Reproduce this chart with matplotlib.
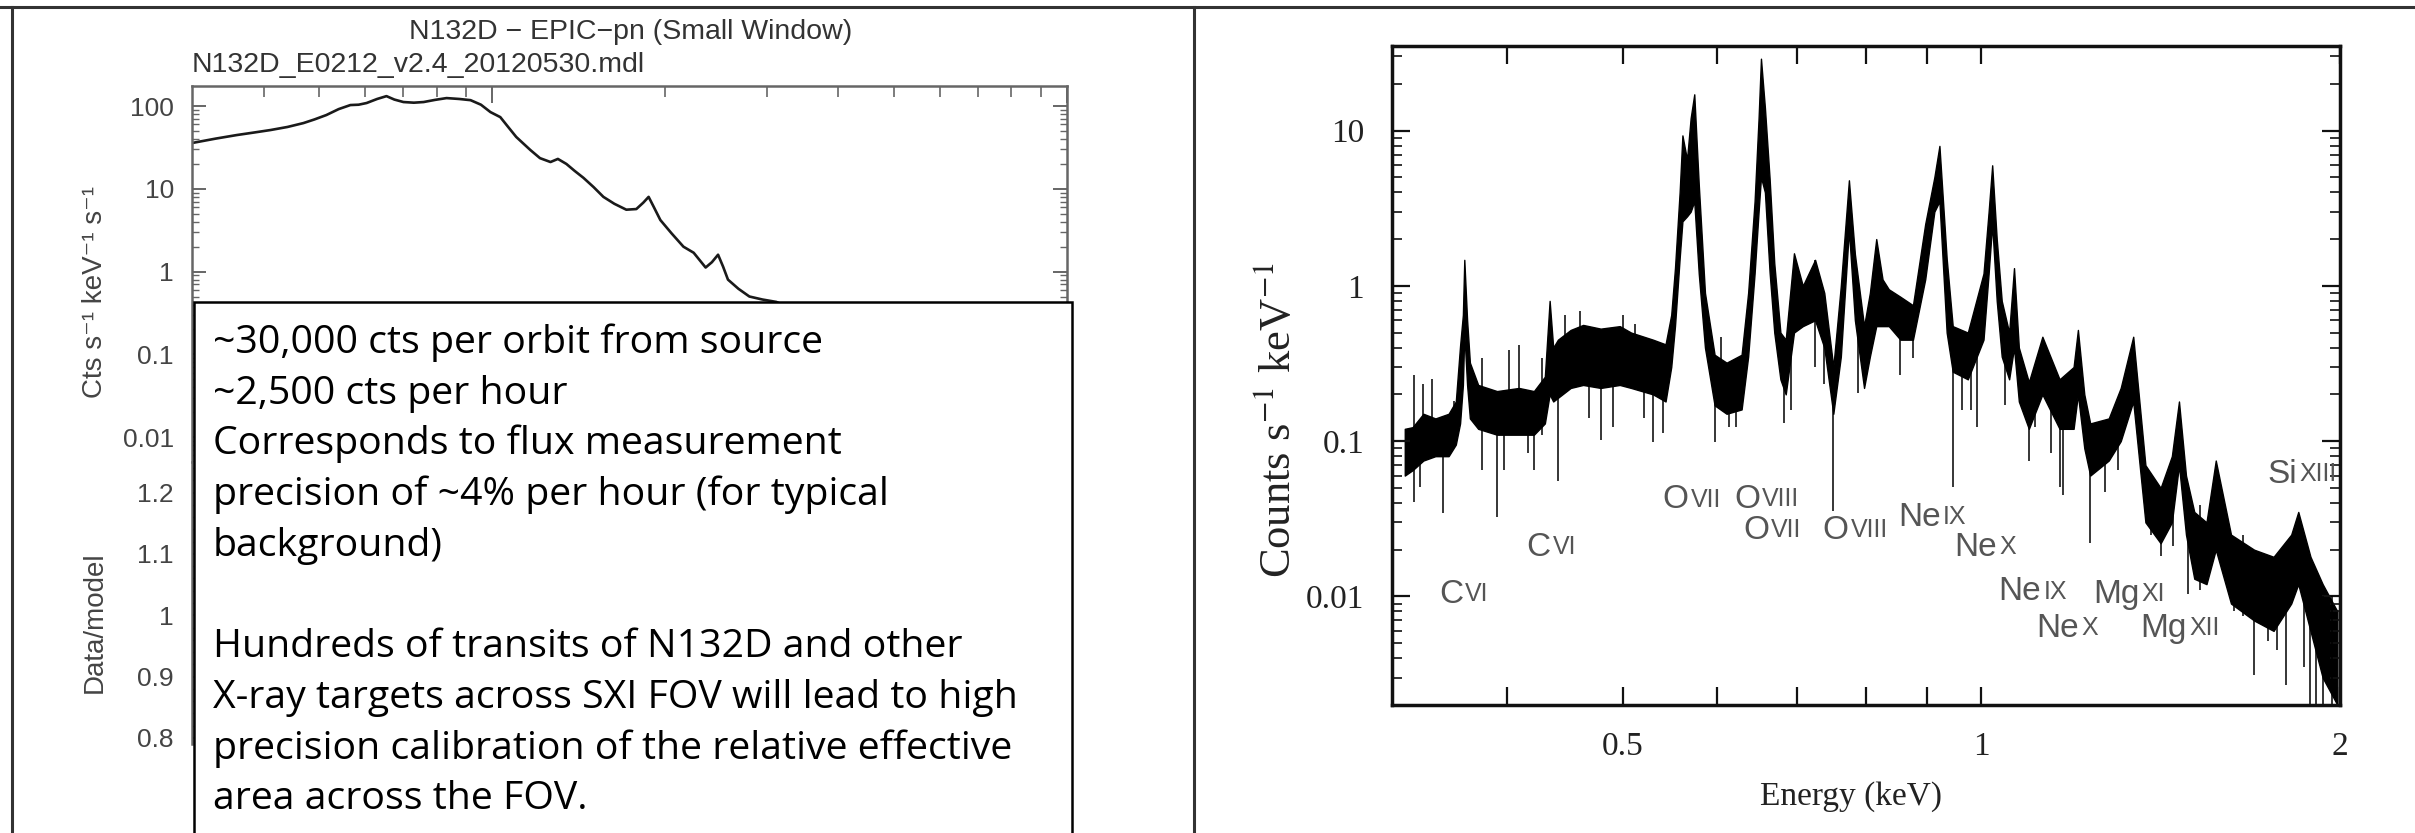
import matplotlib
matplotlib.use("Agg")
import matplotlib.pyplot as plt
from matplotlib.patches import Rectangle
from matplotlib.lines import Line2D
from matplotlib.ticker import FixedLocator, FixedFormatter, NullFormatter, NullLocator

# ---------------- data ----------------
# Left panel: XMM EPIC-pn model spectrum of N132D
model_E = [0.30, 0.33, 0.359, 0.385, 0.411, 0.44, 0.469, 0.49, 0.514, 0.54, 0.566, 0.585,
           0.604, 0.63, 0.654, 0.675, 0.700, 0.73, 0.759, 0.795, 0.832, 0.875, 0.916, 0.955,
           0.992, 1.032, 1.065, 1.10, 1.164, 1.21, 1.262, 1.30, 1.345, 1.39, 1.44, 1.50,
           1.56, 1.63, 1.71, 1.78, 1.83, 1.87, 1.91, 1.96, 2.05, 2.15, 2.24, 2.35, 2.41,
           2.47, 2.52, 2.57, 2.68, 2.80, 2.95, 3.12, 3.5, 4.0]
model_flux = [35.8, 40.5, 44.7, 48.0, 51.4, 56.0, 62.4, 69.0, 78, 92, 103, 104,
              109, 122, 132, 120, 112, 110, 112, 119, 125, 122, 118, 104,
              84.7, 73.6, 56.0, 42.4, 29.5, 23.5, 21.1, 23.0, 20.0, 16.5, 13.6, 10.5,
              8.0, 6.6, 5.6, 5.7, 6.8, 8.0, 6.0, 4.2, 2.9, 2.0, 1.69, 1.12, 1.30,
              1.60, 1.15, 0.80, 0.62, 0.50, 0.46, 0.43, 0.30, 0.20]
left_yticks = [0.01, 0.1, 1, 10, 100]
left_yticklabels = ["0.01", "0.1", "1", "10", "100"]
ratio_yticks = [0.8, 0.9, 1.0, 1.1, 1.2]
ratio_yticklabels = ["0.8", "0.9", "1", "1.1", "1.2"]

# Right panel: high-resolution spectrum, envelope of the noisy data band
spec_E = [0.328, 0.333, 0.340, 0.348, 0.357, 0.362, 0.365, 0.367, 0.368, 0.370, 0.372,
          0.378, 0.392, 0.409, 0.421, 0.430, 0.434, 0.437, 0.441, 0.452, 0.463, 0.479,
          0.497, 0.508, 0.530, 0.543, 0.549, 0.553, 0.558, 0.561, 0.566, 0.570, 0.574,
          0.579, 0.586, 0.597, 0.611, 0.629, 0.637, 0.645, 0.650, 0.653, 0.658, 0.664,
          0.670, 0.678, 0.685, 0.696, 0.708, 0.725, 0.738, 0.751, 0.762, 0.774, 0.783,
          0.797, 0.806, 0.816, 0.826, 0.836, 0.855, 0.876, 0.897, 0.913, 0.922, 0.935,
          0.946, 0.974, 1.004, 1.014, 1.021, 1.030, 1.040, 1.055, 1.065, 1.075, 1.096,
          1.125, 1.163, 1.195, 1.205, 1.22, 1.234, 1.279, 1.309, 1.341, 1.373, 1.414,
          1.445, 1.465, 1.485, 1.509, 1.545, 1.573, 1.620, 1.694, 1.759, 1.820, 1.845,
          1.889, 1.934, 1.99]
spec_hi = [0.12, 0.123, 0.15, 0.14, 0.15, 0.18, 0.41, 0.65, 1.47, 0.60, 0.32,
           0.23, 0.21, 0.22, 0.21, 0.26, 0.80, 0.40, 0.45, 0.52, 0.56, 0.53,
           0.55, 0.50, 0.45, 0.42, 0.65, 1.3, 4.0, 9.3, 6.5, 12.0, 17.1,
           4.5, 0.9, 0.36, 0.32, 0.36, 0.9, 3.5, 12.0, 29.0, 14.0, 4.9,
           1.4, 0.5, 0.45, 1.62, 1.0, 1.47, 0.9, 0.30, 1.0, 4.78, 1.6,
           0.55, 0.9, 2.0, 1.1, 0.95, 0.85, 0.75, 2.5, 5.0, 7.96, 1.5,
           0.55, 0.5, 1.2, 3.0, 5.97, 2.0, 0.8, 0.5, 1.3, 0.4, 0.24,
           0.47, 0.25, 0.3, 0.52, 0.2, 0.13, 0.14, 0.22, 0.47, 0.07, 0.05,
           0.08, 0.18, 0.06, 0.035, 0.03, 0.075, 0.025, 0.02, 0.018, 0.025, 0.035,
           0.018, 0.012, 0.008]
spec_lo = [0.06, 0.065, 0.075, 0.08, 0.08, 0.095, 0.13, 0.23, 0.50, 0.23, 0.14,
           0.12, 0.11, 0.11, 0.11, 0.13, 0.20, 0.18, 0.19, 0.22, 0.23, 0.22,
           0.23, 0.22, 0.20, 0.18, 0.30, 0.55, 1.5, 2.6, 2.8, 3.0, 3.5,
           1.2, 0.40, 0.17, 0.15, 0.16, 0.35, 1.2, 3.0, 5.0, 4.0, 1.22,
           0.5, 0.25, 0.2, 0.5, 0.55, 0.6, 0.4, 0.15, 0.35, 2.3, 0.6,
           0.22, 0.35, 0.55, 0.55, 0.55, 0.45, 0.45, 1.1, 3.0, 3.5, 0.5,
           0.28, 0.25, 0.45, 1.2, 2.5, 0.8, 0.35, 0.25, 0.4, 0.18, 0.12,
           0.2, 0.12, 0.12, 0.2, 0.09, 0.06, 0.075, 0.1, 0.18, 0.03, 0.022,
           0.03, 0.07, 0.025, 0.013, 0.012, 0.02, 0.009, 0.007, 0.006, 0.009, 0.012,
           0.006, 0.003, 0.002]
# single-bin spikes / dips (energy, low end, high end)
spike_E = [0.334, 0.338, 0.340, 0.346, 0.353, 0.361, 0.381, 0.392, 0.397, 0.401, 0.409,
           0.416, 0.421, 0.428, 0.441, 0.447, 0.460, 0.468, 0.479, 0.491, 0.500, 0.512,
           0.521, 0.530, 0.540, 0.597, 0.604, 0.614, 0.622, 0.683, 0.692, 0.725, 0.738,
           0.751, 0.788, 0.855, 0.876, 0.946, 0.963, 0.980, 0.992, 1.046, 1.096, 1.110,
           1.143, 1.163, 1.170, 1.191, 1.234, 1.271, 1.302, 1.389, 1.414, 1.448, 1.491,
           1.527, 1.629, 1.659, 1.694, 1.739, 1.770, 1.802, 1.867, 1.889, 1.911, 1.934,
           1.968]
spike_lo = [0.0405, 0.0506, 0.08, 0.08, 0.0346, 0.09, 0.065, 0.0324, 0.065, 0.11, 0.15,
            0.084, 0.065, 0.11, 0.0557, 0.3, 0.3, 0.14, 0.102, 0.123, 0.3, 0.22,
            0.14, 0.0994, 0.112, 0.0994, 0.2, 0.123, 0.123, 0.131, 0.159, 0.30, 0.233,
            0.0357, 0.205, 0.265, 0.341, 0.0506, 0.159, 0.159, 0.123, 0.17, 0.0742, 0.123,
            0.0842, 0.0506, 0.0447, 0.123, 0.0221, 0.047, 0.065, 0.025, 0.0183, 0.021, 0.0103,
            0.011, 0.008, 0.0075, 0.0031, 0.0052, 0.0045, 0.0027, 0.0035, 0.002, 0.002, 0.002,
            0.002]
spike_hi = [0.265, 0.08, 0.233, 0.25, 0.10, 0.181, 0.341, 0.15, 0.15, 0.387, 0.413,
            0.2, 0.15, 0.341, 0.25, 0.645, 0.687, 0.3, 0.3, 0.3, 0.645, 0.568,
            0.3, 0.3, 0.3, 0.25, 0.469, 0.3, 0.25, 0.3, 0.4, 1.47, 0.6,
            0.2, 0.5, 0.6, 0.6, 0.35, 0.4, 0.35, 0.35, 0.5, 0.18, 0.25,
            0.2, 0.18, 0.15, 0.25, 0.09, 0.1, 0.15, 0.06, 0.04, 0.05, 0.03,
            0.039, 0.02, 0.025, 0.012, 0.012, 0.012, 0.01, 0.012, 0.018, 0.015, 0.01,
            0.01]
right_xticks = [0.4, 0.5, 0.6, 0.7, 0.8, 0.9, 1.0, 2.0]
right_xticklabels = ["", "0.5", "", "", "", "", "1", "2"]
right_yticks = [0.01, 0.1, 1, 10]
right_yticklabels = ["0.01", "0.1", "1", "10"]

# emission-line labels
line_sym = ["C", "C", "O", "O", "O", "O", "Ne", "Ne", "Ne", "Ne", "Mg", "Mg", "Si"]
line_ion = ["VI", "VI", "VII", "VIII", "VII", "VIII", "IX", "X", "IX", "X", "XI", "XII", "XIII"]
line_E = [0.3505, 0.415, 0.540, 0.620, 0.631, 0.736, 0.851, 0.949, 1.034, 1.112, 1.241, 1.360, 1.739]
line_y = [0.0103, 0.0208, 0.0419, 0.0424, 0.0265, 0.0265, 0.0324, 0.0208, 0.0107, 0.0062, 0.0103, 0.0062, 0.0613]

box_lines = ["~30,000 cts per orbit from source",
             "~2,500 cts per hour",
             "Corresponds to flux measurement",
             "precision of ~4% per hour (for typical",
             "background)",
             "",
             "Hundreds of transits of N132D and other",
             "X-ray targets across SXI FOV will lead to high",
             "precision calibration of the relative effective",
             "area across the FOV."]

# ---------------- figure ----------------
W, H, DPI = 2415, 833, 100
plt.rcParams["mathtext.fontset"] = "stix"
fig = plt.figure(figsize=(W / DPI, H / DPI), dpi=DPI)
fig.patch.set_facecolor("white")


def rect(l, t, r, b):
    return [l / W, 1 - b / H, (r - l) / W, (b - t) / H]


def fxy(px, py):
    return px / W, 1 - py / H


SANS = ["Liberation Sans", "DejaVu Sans"]
NARROW = ["Liberation Sans Narrow", "Liberation Sans", "DejaVu Sans"]
SERIF = ["Liberation Serif", "DejaVu Serif"]
GRAY = "#444444"

# ---- left: model spectrum panel ----
axL = fig.add_axes(rect(192, 86, 1067, 462))
axL.set_xscale("log")
axL.set_yscale("log")
axL.set_xlim(0.3, 10)
axL.set_ylim(0.005, 175)
axL.plot(model_E, model_flux, color="#1a1a1a", lw=1.9)
for s in ["left", "right", "top"]:
    axL.spines[s].set_color("#666666")
    axL.spines[s].set_linewidth(1.8)
axL.spines["bottom"].set_visible(False)
axL.xaxis.set_major_locator(FixedLocator([1, 10]))
axL.xaxis.set_minor_locator(FixedLocator([0.4, 0.5, 0.6, 0.7, 0.8, 0.9, 2, 3, 4, 5, 6, 7, 8, 9]))
axL.xaxis.set_major_formatter(NullFormatter())
axL.xaxis.set_minor_formatter(NullFormatter())
axL.tick_params(axis="x", which="both", direction="in", top=True, bottom=False,
                labelbottom=False, color="#666666")
axL.tick_params(axis="x", which="major", length=12, width=1.4)
axL.tick_params(axis="x", which="minor", length=8, width=1.2)
axL.yaxis.set_major_locator(FixedLocator(left_yticks))
axL.yaxis.set_major_formatter(FixedFormatter(left_yticklabels))
axL.yaxis.set_minor_locator(FixedLocator([m * d for d in [0.001, 0.01, 0.1, 1, 10, 100]
                                          for m in range(2, 10)]))
axL.yaxis.set_minor_formatter(NullFormatter())
axL.tick_params(axis="y", which="both", direction="in", left=True, right=True,
                color="#666666", labelcolor=GRAY, labelsize=19, pad=13)
axL.tick_params(axis="y", which="major", length=10, width=1.4)
axL.tick_params(axis="y", which="minor", length=5, width=1.0)
for t in axL.get_yticklabels():
    t.set_fontfamily(SANS)

# ---- left: ratio panel ----
axR = fig.add_axes(rect(192, 462, 1067, 744))
axR.set_xscale("log")
axR.set_xlim(0.3, 10)
axR.set_ylim(0.79, 1.25)
for s in ["right", "top", "bottom"]:
    axR.spines[s].set_visible(False)
axR.spines["left"].set_color("#666666")
axR.spines["left"].set_linewidth(1.8)
axR.xaxis.set_major_locator(NullLocator())
axR.xaxis.set_minor_locator(NullLocator())
axR.yaxis.set_major_locator(FixedLocator(ratio_yticks))
axR.yaxis.set_major_formatter(FixedFormatter(ratio_yticklabels))
axR.yaxis.set_minor_locator(FixedLocator([0.8 + 0.02 * i for i in range(23)]))
axR.tick_params(axis="y", which="both", direction="in", color="#666666",
                labelcolor=GRAY, labelsize=19, pad=13)
axR.tick_params(axis="y", which="major", length=10, width=1.4)
axR.tick_params(axis="y", which="minor", length=5, width=1.0)
for t in axR.get_yticklabels():
    t.set_fontfamily(SANS)

fig.text(*fxy(631, 32), "N132D \u2212 EPIC\u2212pn (Small Window)", ha="center", va="center",
         fontsize=20.5, color="#333333", family=SANS)
fig.text(*fxy(192, 65), "N132D_E0212_v2.4_20120530.mdl", ha="left", va="center",
         fontsize=20.5, color="#333333", family=SANS)
fig.text(*fxy(95, 292), "Cts s\u207b\u00b9 keV\u207b\u00b9 s\u207b\u00b9", rotation=90, ha="center",
         va="center", fontsize=20, color=GRAY, family=SANS)
fig.text(*fxy(95, 622), "Data/model", rotation=90, ha="center", va="center",
         fontsize=20, color=GRAY, family=SANS)

# ---- text box over the left panel ----
fig.add_artist(Rectangle(fxy(194, 845), (1072 - 194) / W, (845 - 302) / H,
                         transform=fig.transFigure, facecolor="white", edgecolor="black",
                         lw=1.8, zorder=5))
for i, line in enumerate(box_lines):
    if line:
        fig.text(*fxy(213, 353 + i * 50.7), line, ha="left", va="baseline", fontsize=28.3,
                 color="black", family=["Open Sans", "DejaVu Sans"], zorder=6)

# ---- right: spectrum panel ----
ax = fig.add_axes(rect(1392, 46, 2340, 705))
ax.set_xscale("log")
ax.set_yscale("log")
ax.set_xlim(0.32, 2.0)
ax.set_ylim(0.002, 35)
ax.fill_between(spec_E, spec_lo, spec_hi, color="black", lw=1.0)
ax.vlines(spike_E, spike_lo, spike_hi, color="black", lw=1.1)
for s in ax.spines.values():
    s.set_linewidth(2.5)
    s.set_color("#111111")
ax.xaxis.set_major_locator(FixedLocator(right_xticks))
ax.xaxis.set_major_formatter(FixedFormatter(right_xticklabels))
ax.xaxis.set_minor_locator(NullLocator())
ax.yaxis.set_major_locator(FixedLocator(right_yticks))
ax.yaxis.set_major_formatter(FixedFormatter(right_yticklabels))
ax.yaxis.set_minor_locator(FixedLocator([m * d for d in [0.001, 0.01, 0.1, 1, 10]
                                         for m in range(2, 10)]))
ax.yaxis.set_minor_formatter(NullFormatter())
ax.tick_params(axis="both", which="both", direction="in", top=True, right=True,
               labelsize=24, labelcolor="#222222", color="#111111")
ax.tick_params(axis="x", which="major", length=13, width=1.6, pad=19)
ax.tick_params(axis="y", which="major", length=13, width=1.6, pad=20)
ax.tick_params(axis="y", which="minor", length=7, width=1.2)
for t in ax.get_xticklabels() + ax.get_yticklabels():
    t.set_fontfamily(SERIF)

for sym, ion, e, y in zip(line_sym, line_ion, line_E, line_y):
    t1 = ax.text(e, y, sym, ha="left", va="center", fontsize=24, color="#555555",
                 family=NARROW)
    ax.annotate(ion, xy=(1, 0.12), xycoords=t1, xytext=(1.5, 0), textcoords="offset points",
                ha="left", va="bottom", fontsize=18, color="#555555", family=NARROW)

fig.text(*fxy(1278, 420), "Counts s$^{-1}$ keV$^{-1}$", rotation=90, ha="center", va="center",
         fontsize=32, color="#222222", family=SERIF)
fig.text(*fxy(1851, 797), "Energy (keV)", ha="center", va="center", fontsize=24,
         color="#222222", family=SERIF)

# ---- slide frame lines ----
for (x0, y0, x1, y1) in [(0, 7, W, 7), (12, 7, 12, H), (1194, 7, 1194, H)]:
    fig.add_artist(Line2D([x0 / W, x1 / W], [1 - y0 / H, 1 - y1 / H], transform=fig.transFigure,
                          color="#333333", lw=2.2, zorder=7))

fig.savefig("out.png", dpi=DPI, facecolor="white")
